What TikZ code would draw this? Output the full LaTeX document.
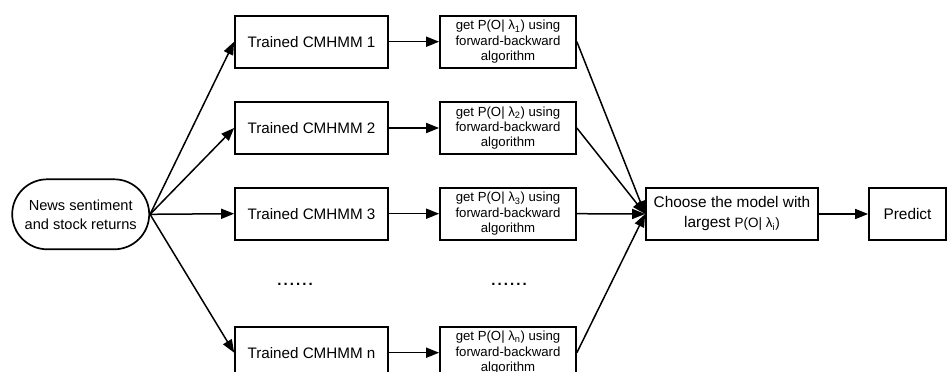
\documentclass[tikz,border=0pt]{standalone}
\usepackage{fontspec}
\setmainfont{Liberation Sans}
\usetikzlibrary{arrows.meta}
\newcommand{\lam}[1]{λ\textsubscript{#1}}
\begin{document}
\begin{tikzpicture}[x=1pt,y=-1pt,
  box/.style={draw,line width=1.7pt,rectangle,inner sep=0pt,align=center},
  trained/.style={box,minimum width=153pt,minimum height=52pt,font=\fontsize{15.2}{18}\selectfont},
  getbox/.style={box,minimum width=136pt,minimum height=52pt,font=\fontsize{13.2}{15.3}\selectfont},
  flow/.style={line width=1.5pt,-{Triangle[length=13pt,width=10pt]}},
  dotsrow/.style={font=\fontsize{15}{18}\bfseries\selectfont\addfontfeature{LetterSpace=14}}]
\useasboundingbox (0,0) rectangle (948,372);
\clip (0,0) rectangle (948,372);

% input
\node[draw,line width=1.7pt,rounded corners=35pt,minimum width=137pt,minimum height=70pt,
      align=center,inner sep=0pt,font=\fontsize{14.6}{19}\selectfont]
  (news) at (80.7,214.3) {News sentiment\\and stock returns};

% trained models
\node[trained] (t1) at (311.5,41.7) {Trained CMHMM 1};
\node[trained] (t2) at (311.5,128) {Trained CMHMM 2};
\node[trained] (t3) at (311.5,213.7) {Trained CMHMM 3};
\node[trained] (tn) at (311.5,352.7) {Trained CMHMM n};

% likelihood evaluation
\node[getbox] (g1) at (508,41.7) {get P(O| \lam{1}) using\\forward-backward\\algorithm};
\node[getbox] (g2) at (508,128) {get P(O| \lam{2}) using\\forward-backward\\algorithm};
\node[getbox] (g3) at (508,213.7) {get P(O| \lam{3}) using\\forward-backward\\algorithm};
\node[getbox] (gn) at (508,352.7) {get P(O| \lam{n}) using\\forward-backward\\algorithm};

% ellipsis rows
\node[dotsrow] (d1) at (295,284) {......};
\node[dotsrow] (d2) at (509,284) {......};

% selection and prediction
\node[box,minimum width=172pt,minimum height=52pt,font=\fontsize{15.4}{20}\selectfont]
  (choose) at (732,214) {Choose the model with\\largest {\fontsize{13.5}{16}\selectfont P(O| λ\textsubscript{i})}};
\node[box,minimum width=77pt,minimum height=52pt,font=\fontsize{15.4}{18}\selectfont]
  (predict) at (907.5,214) {Predict};

\coordinate (merge) at (choose.west);

\foreach \t in {t1,t2,t3,tn}{
  \draw[flow] (news.east) -- (\t.west);
}
\foreach \t/\g in {t1/g1,t2/g2,t3/g3,tn/gn}{
  \draw[flow] (\t.east) -- (\g.west);
  \draw[flow] (\g.east) -- (merge);
}
\draw[flow] (choose) -- (predict);
\end{tikzpicture}
\end{document}
